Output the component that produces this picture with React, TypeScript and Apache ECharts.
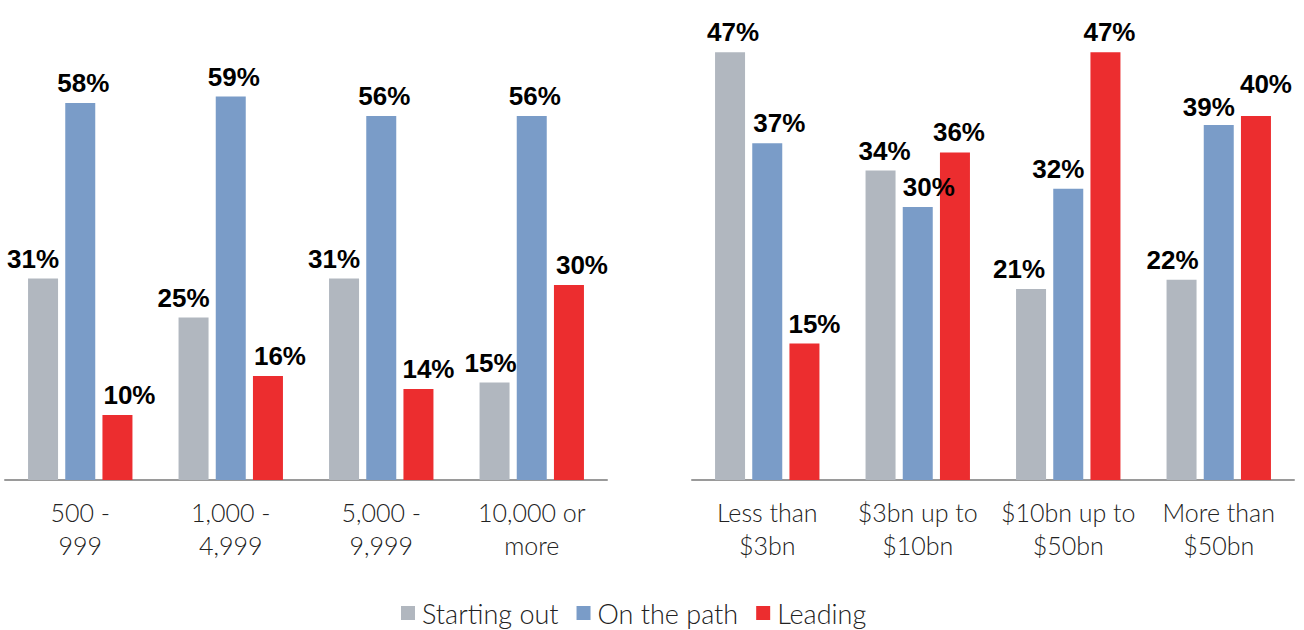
import React, { useEffect, useRef } from "react";
import * as echarts from "echarts";

const leftCategories = ["500 -\n999", "1,000 -\n4,999", "5,000 -\n9,999", "10,000 or\nmore"];
const rightCategories = ["Less than\n$3bn", "$3bn up to\n$10bn", "$10bn up to\n$50bn", "More than\n$50bn"];
const seriesNames = ["Starting out", "On the path", "Leading"];
const colors = ["#B1B7BF", "#7A9CC8", "#EC2D2F"];
const leftStarting = [31, 25, 31, 15];
const leftPath = [58, 59, 56, 56];
const leftLeading = [10, 16, 14, 30];
const rightStarting = [47, 34, 21, 22];
const rightPath = [37, 30, 32, 39];
const rightLeading = [15, 36, 47, 40];

const labelFont = "'Liberation Sans', Arial, sans-serif";
const axisFont = "Lato, 'Open Sans', sans-serif";

export default function App() {
  const ref = useRef<HTMLDivElement>(null);
  useEffect(() => {
    if (!ref.current) return;
    const chart = echarts.init(ref.current, null, { renderer: "svg" });
    // label nudges (x, y) in pixels, mirroring the reference's label placement
    const nudges: Record<string, number[][]> = {
      l0: [[-10, 0], [-10, 0], [-10, 0], [-4, 0]],
      l1: [[3, 0], [3, 0], [3, 0], [3, 0]],
      l2: [[12, 0], [12, 0], [10, 0], [13, 0]],
      r0: [[3, 0], [4, 0], [-12, 0], [-9, 0]],
      r1: [[12, 0], [11, 0], [-10, 0], [-10, 2]],
      r2: [[10, 0], [4, 0], [4, 0], [10, -12]],
    };
    const mk = (name: string, values: number[], idx: number, ci: number, key: string) => ({
      name,
      type: "bar",
      xAxisIndex: idx,
      yAxisIndex: idx,
      data: values.map((v, i) => ({ value: v, label: { offset: nudges[key][i] } })),
      barWidth: 30,
      barGap: "24%",
      itemStyle: { color: colors[ci] },
      label: {
        show: true,
        position: "top",
        distance: 7,
        formatter: "{c}%",
        fontFamily: labelFont,
        fontWeight: "bold",
        fontSize: 26,
        color: "#000",
      },
    });
    const xAxisBase = {
      type: "category",
      axisLine: { show: true, lineStyle: { color: "#9A9A9A", width: 2 } },
      axisTick: { show: false },
      axisLabel: {
        fontFamily: axisFont,
        fontWeight: 300,
        fontSize: 25,
        color: "#222",
        lineHeight: 33,
        margin: 15,
        interval: 0,
      },
    };
    const yAxisBase = {
      type: "value",
      min: 0,
      show: false,
      splitLine: { show: false },
    };
    chart.setOption({
      animation: false,
      legend: {
        data: seriesNames,
        top: 599,
        left: 401,
        padding: 0,
        itemWidth: 14,
        itemHeight: 14,
        itemGap: 18,
        icon: "rect",
        textStyle: {
          fontFamily: axisFont,
          fontWeight: 300,
          fontSize: 27,
          lineHeight: 28,
          color: "#222",
          padding: [0, 0, 0, 2],
        },
      },
      grid: [
        { left: 5, width: 602, top: 25, bottom: 150 },
        { left: 692, width: 602, top: 25, bottom: 150 },
      ],
      xAxis: [
        { ...xAxisBase, gridIndex: 0, data: leftCategories },
        { ...xAxisBase, gridIndex: 1, data: rightCategories },
      ],
      yAxis: [
        { ...yAxisBase, gridIndex: 0, max: 70 },
        { ...yAxisBase, gridIndex: 1, max: 50 },
      ],
      series: [
        mk(seriesNames[0], leftStarting, 0, 0, "l0"),
        mk(seriesNames[1], leftPath, 0, 1, "l1"),
        mk(seriesNames[2], leftLeading, 0, 2, "l2"),
        mk(seriesNames[0], rightStarting, 1, 0, "r0"),
        mk(seriesNames[1], rightPath, 1, 1, "r1"),
        mk(seriesNames[2], rightLeading, 1, 2, "r2"),
      ],
    });
    return () => chart.dispose();
  }, []);
  return (
    <div
      ref={ref}
      style={{ position: "fixed", left: 0, top: 0, width: 1304, height: 630, background: "#fff" }}
    />
  );
}
